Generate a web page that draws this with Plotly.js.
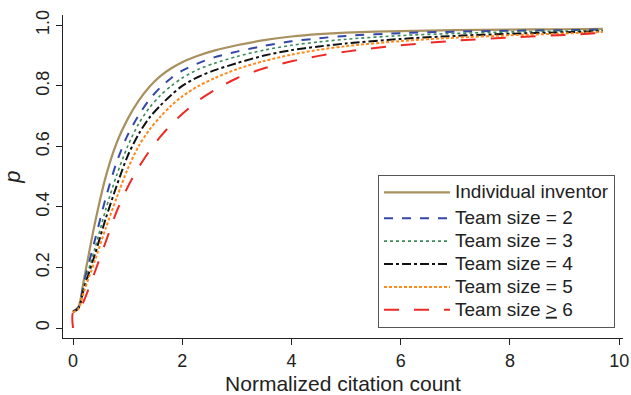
<!DOCTYPE html>
<html>
<head>
<meta charset="utf-8">
<script src="https://cdn.plot.ly/plotly-3.0.1.min.js"></script>
<style>html,body{margin:0;padding:0;background:#fff;}#chart{width:631px;height:395px;}</style>
</head>
<body>
<div id="chart"></div>
<script>
const citation = [0, 0.1, 0.2, 0.4, 0.6, 0.8, 1.0, 1.2, 1.4, 1.6, 1.8, 2.0, 2.3, 2.6, 3.0, 3.5, 4.0, 4.5, 5.0, 6.0, 7.0, 8.0, 9.0, 9.7];
const individual = [0.055, 0.07, 0.16, 0.345, 0.5, 0.612, 0.69, 0.75, 0.797, 0.832, 0.858, 0.878, 0.9, 0.917, 0.934, 0.951, 0.963, 0.971, 0.976, 0.981, 0.984, 0.986, 0.987, 0.988];
const team2 = [0.054, 0.068, 0.15, 0.29, 0.43, 0.548, 0.637, 0.702, 0.755, 0.795, 0.826, 0.85, 0.875, 0.895, 0.913, 0.932, 0.947, 0.957, 0.965, 0.974, 0.979, 0.982, 0.984, 0.986];
const team3 = [0.053, 0.066, 0.14, 0.262, 0.392, 0.505, 0.6, 0.674, 0.728, 0.768, 0.8, 0.826, 0.855, 0.875, 0.897, 0.918, 0.934, 0.945, 0.954, 0.966, 0.973, 0.978, 0.981, 0.983];
const team4 = [0.053, 0.065, 0.13, 0.242, 0.362, 0.47, 0.568, 0.64, 0.695, 0.735, 0.77, 0.8, 0.83, 0.852, 0.875, 0.9, 0.918, 0.93, 0.94, 0.955, 0.965, 0.972, 0.977, 0.981];
const team5 = [0.052, 0.063, 0.12, 0.222, 0.33, 0.43, 0.525, 0.6, 0.655, 0.698, 0.735, 0.765, 0.8, 0.826, 0.855, 0.882, 0.903, 0.919, 0.931, 0.948, 0.959, 0.967, 0.973, 0.978];
const team6Citation = [0, 0, 0.1, 0.2, 0.4, 0.6, 0.8, 1.0, 1.2, 1.4, 1.6, 1.8, 2.0, 2.3, 2.6, 3.0, 3.5, 4.0, 4.5, 5.0, 6.0, 7.0, 8.0, 9.0, 9.7];
const team6 = [0, 0.05, 0.055, 0.09, 0.185, 0.285, 0.385, 0.465, 0.53, 0.585, 0.632, 0.672, 0.707, 0.752, 0.787, 0.825, 0.858, 0.881, 0.899, 0.913, 0.934, 0.949, 0.96, 0.968, 0.975];
const seriesNames = ["Individual inventor", "Team size = 2", "Team size = 3", "Team size = 4", "Team size = 5", "Team size <u>></u> 6"];
const xTicks = [0, 2, 4, 6, 8, 10];
const yTicks = [0, 0.2, 0.4, 0.6, 0.8, 1.0];
const yTickText = ["0", "0.2", "0.4", "0.6", "0.8", "1.0"];

const styles = [
  {color: "#a8915f", dash: "solid", width: 2.2},
  {color: "#3347a8", dash: "dash", width: 2},
  {color: "#3d8a5a", dash: "dot", width: 1.6},
  {color: "#111111", dash: "dashdot", width: 2},
  {color: "#ff8a1c", dash: "3px,2px", width: 2},
  {color: "#ee2a24", dash: "longdash", width: 2}
];
const xs = [citation, citation, citation, citation, citation, team6Citation];
const ys = [individual, team2, team3, team4, team5, team6];

const traces = ys.map((y, i) => ({
  x: xs[i], y: y, type: "scatter", mode: "lines",
  name: "<span style='font-size:19px'>" + seriesNames[i] + "</span>",
  line: {color: styles[i].color, dash: styles[i].dash, width: styles[i].width, shape: "spline", smoothing: 0.8},
  legendgroup: i === 0 ? "a" : "b"
}));

const font = "Liberation Sans, Arial, Helvetica, sans-serif";
const layout = {
  width: 631, height: 395,
  margin: {l: 63, r: 8, t: 15, b: 57},
  paper_bgcolor: "#fff", plot_bgcolor: "#fff",
  font: {family: font, size: 18, color: "#222"},
  showlegend: true,
  legend: {
    x: 0.5625, y: 0.505, xanchor: "left", yanchor: "top",
    bordercolor: "#555", borderwidth: 1, bgcolor: "#fff",
    font: {family: font, size: 15.3, color: "#222"},
    traceorder: "grouped", tracegroupgap: 3, itemwidth: 66
  },
  xaxis: {
    range: [-0.183, 10.07], tickvals: xTicks, ticks: "outside", ticklen: 6, tickcolor: "#222",
    showline: true, linecolor: "#222", linewidth: 1, showgrid: false, zeroline: false,
    tickfont: {family: font, size: 18, color: "#222"},
    title: {text: "Normalized citation count", font: {family: font, size: 21, color: "#222"}, standoff: 8}
  },
  yaxis: {
    range: [-0.033, 1.034], tickvals: yTicks, ticktext: yTickText, ticks: "outside", ticklen: 6, tickcolor: "#222",
    tickangle: -90,
    showline: true, linecolor: "#222", linewidth: 1, showgrid: false, zeroline: false,
    tickfont: {family: font, size: 18, color: "#222"},
    title: {text: "<i>p</i>", font: {family: font, size: 22, color: "#222"}, standoff: 6}
  }
};
Plotly.newPlot("chart", traces, layout, {staticPlot: true, displayModeBar: false});
</script>
</body>
</html>
